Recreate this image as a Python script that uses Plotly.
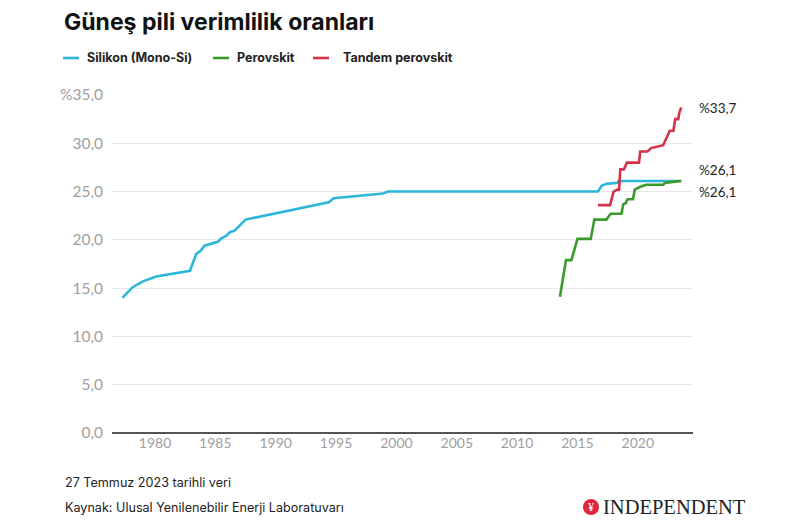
import plotly.graph_objects as go

# ---- data ----
si_years = [1977.3, 1978.15, 1979.0, 1980.1, 1982.9, 1983.4, 1983.8, 1984.1, 1985.2, 1985.5,
            1985.9, 1986.2, 1986.6, 1986.9, 1987.5, 1994.4, 1994.8, 1998.9, 1999.3, 2016.7,
            2017.0, 2017.4, 2018.3, 2018.4, 2023.6]
si_values = [14.0, 15.1, 15.7, 16.2, 16.8, 18.5, 18.9, 19.4, 19.8, 20.15,
             20.4, 20.8, 20.95, 21.3, 22.1, 23.9, 24.3, 24.8, 25.0, 25.0,
             25.6, 25.8, 25.9, 26.1, 26.1]

pv_years = [2013.55, 2014.05, 2014.5, 2015.0, 2016.1, 2016.4, 2017.4, 2017.75, 2018.65, 2018.8,
            2019.0, 2019.15, 2019.6, 2019.75, 2020.2, 2020.7, 2022.1, 2022.25, 2022.9, 2023.6]
pv_values = [14.1, 17.9, 17.9, 20.1, 20.1, 22.1, 22.1, 22.7, 22.7, 23.7,
             23.8, 24.2, 24.2, 25.2, 25.5, 25.7, 25.7, 25.9, 26.0, 26.1]

td_years = [2016.7, 2017.7, 2018.0, 2018.3, 2018.45, 2018.55, 2018.85, 2019.1, 2020.1, 2020.2,
            2020.8, 2021.1, 2022.1, 2022.65, 2022.95, 2023.1, 2023.35, 2023.45, 2023.6]
td_values = [23.6, 23.6, 25.0, 25.2, 25.2, 27.3, 27.3, 28.0, 28.0, 29.15,
             29.15, 29.5, 29.8, 31.3, 31.3, 32.5, 32.5, 33.2, 33.7]

series_names = ["Silikon (Mono-Si)", "Perovskit", "Tandem perovskit"]
end_labels = ["%33,7", "%26,1", "%26,1"]

y_ticks = [0, 5, 10, 15, 20, 25, 30, 35]
y_ticktext = ["0,0", "5,0", "10,0", "15,0", "20,0", "25,0", "30,0", "%35,0"]
x_ticks = [1980, 1985, 1990, 1995, 2000, 2005, 2010, 2015, 2020]

title = "Güneş pili verimlilik oranları"
note1 = "27 Temmuz 2023 tarihli veri"
note2 = "Kaynak: Ulusal Yenilenebilir Enerji Laboratuvarı"
logo = "INDEPENDENT"

# ---- style ----
BLUE = "#2bb6da"
GREEN = "#3b9a2c"
RED = "#d3334a"
W, H = 800, 530
OFF = 8  # page body margin
L, R, T, B = 112, 693, 95, 433


def px(x):
    return (x - L) / (R - L)


def py(y):
    return (B - y) / (B - T)


fig = go.Figure()
for xs, ys, col, name in [(si_years, si_values, BLUE, series_names[0]),
                          (pv_years, pv_values, GREEN, series_names[1]),
                          (td_years, td_values, RED, series_names[2])]:
    fig.add_trace(go.Scatter(x=xs, y=ys, mode="lines", name=name,
                             line=dict(color=col, width=2.6), showlegend=False,
                             hoverinfo="skip"))

shapes = []
annotations = []

# title
annotations.append(dict(text=f"<b>{title}</b>", x=px(62), y=py(22.5), xref="paper", yref="paper",
                        xanchor="left", yanchor="middle", showarrow=False,
                        font=dict(family="Inter", size=23, color="#111111")))

# manual legend
leg = [(63, 85, BLUE, series_names[0]), (213, 235, GREEN, series_names[1]),
       (313, 341, RED, series_names[2])]
for x0, xt, col, name in leg:
    shapes.append(dict(type="line", xref="paper", yref="paper", x0=px(x0), x1=px(x0 + 16),
                       y0=py(58), y1=py(58), line=dict(color=col, width=2.6)))
    annotations.append(dict(text=f"<b>{name}</b>", x=px(xt), y=py(57.5), xref="paper", yref="paper",
                            xanchor="left", yanchor="middle", showarrow=False,
                            font=dict(family="Inter", size=12.5, color="#222222")))

# end labels
for lab, ypos in zip(end_labels, [108, 170, 192]):
    annotations.append(dict(text=lab, x=px(697), y=py(ypos), xref="paper", yref="paper",
                            xanchor="left", yanchor="middle", showarrow=False,
                            font=dict(family="Lato", size=13.5, color="#222222")))

# footer
annotations.append(dict(text=note1, x=px(63), y=py(482), xref="paper", yref="paper",
                        xanchor="left", yanchor="middle", showarrow=False,
                        font=dict(family="Inter", size=12.6, color="#222222")))
annotations.append(dict(text=note2, x=px(63), y=py(507), xref="paper", yref="paper",
                        xanchor="left", yanchor="middle", showarrow=False,
                        font=dict(family="Inter", size=12.6, color="#222222")))
# logo
shapes.append(dict(type="circle", xref="paper", yref="paper", x0=px(583), x1=px(599),
                   y0=py(499), y1=py(515), fillcolor="#e0283c", line=dict(width=0)))
annotations.append(dict(text="¥", x=px(591), y=py(507), xref="paper", yref="paper",
                        xanchor="center", yanchor="middle", showarrow=False,
                        font=dict(family="Liberation Serif", size=12, color="white")))
annotations.append(dict(text=logo, x=px(601), y=py(507), xref="paper", yref="paper",
                        xanchor="left", yanchor="middle", showarrow=False,
                        font=dict(family="Liberation Serif", size=20.5, color="#222222")))

x_lo = 1980 + (L - 155) / 12.07
x_hi = 1980 + (R - 155) / 12.07

fig.update_layout(
    width=W - OFF, height=H - OFF,
    margin=dict(l=L - OFF, r=W - R, t=T - OFF, b=H - B, pad=0),
    paper_bgcolor="white", plot_bgcolor="white",
    shapes=shapes, annotations=annotations,
    xaxis=dict(range=[x_lo, x_hi], tickvals=x_ticks, showgrid=False, zeroline=False,
               showline=False, ticks="", tickfont=dict(family="Lato", size=14, color="#a0a0a0"),
               fixedrange=True),
    yaxis=dict(range=[0, 35], tickvals=y_ticks, ticktext=y_ticktext, showgrid=True,
               gridcolor="#e8e8e8", gridwidth=1, zeroline=True, zerolinecolor="#555555",
               zerolinewidth=1.5, showline=False, ticks="", ticklabelstandoff=8,
               tickfont=dict(family="Lato", size=15.5, color="#a0a0a0"), fixedrange=True),
)

fig.write_html("out.html")
